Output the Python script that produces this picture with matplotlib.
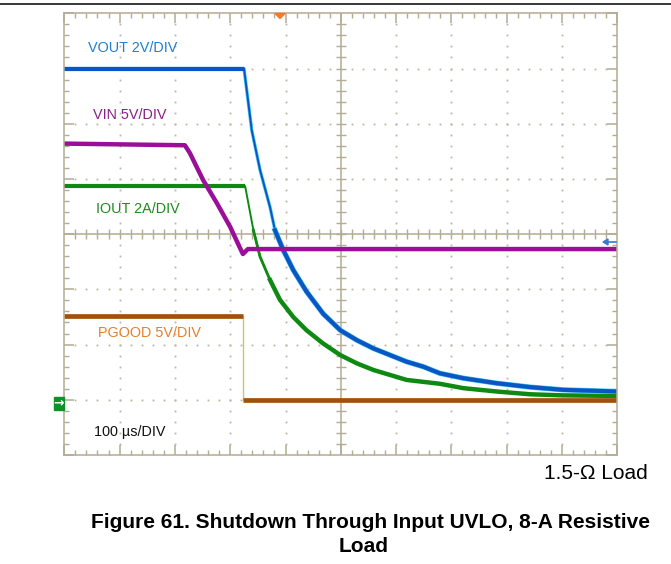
import numpy as np
import matplotlib
matplotlib.use('Agg')
import matplotlib.pyplot as plt
from matplotlib.lines import Line2D
from matplotlib.patches import Rectangle, Polygon

plt.rcParams['font.family'] = ['Liberation Sans', 'DejaVu Sans']

# time in us (100 us/DIV), trace position in screen divisions (0 = bottom edge)
vout_t = [0, 325, 339, 354, 372, 381, 396, 414, 438, 468, 499, 529, 559, 589, 619, 649, 679, 722, 782, 842, 902, 1000]
vout_div = [7.0, 7.0, 5.88, 5.16, 4.49, 4.07, 3.71, 3.35, 2.96, 2.56, 2.26, 2.08, 1.93, 1.81, 1.69, 1.60, 1.48, 1.39, 1.30, 1.23, 1.18, 1.15]

vin_t = [0, 218, 227, 251, 276, 300, 321, 323, 332, 1000]
vin_div = [5.64, 5.61, 5.47, 4.98, 4.56, 4.13, 3.68, 3.64, 3.73, 3.73]

iout_t = [0, 327, 342, 354, 372, 390, 414, 438, 468, 499, 529, 559, 589, 619, 679, 722, 782, 842, 902, 1000]
iout_div = [4.87, 4.87, 4.07, 3.59, 3.17, 2.81, 2.50, 2.26, 2.02, 1.81, 1.66, 1.54, 1.45, 1.36, 1.29, 1.21, 1.15, 1.10, 1.08, 1.07]

pgood_t = [0, 324, 324, 1000]
pgood_div = [2.52, 2.52, 1.0, 1.0]

labels = ['VOUT 2V/DIV', 'VIN 5V/DIV', 'IOUT 2A/DIV', 'PGOOD 5V/DIV', '100 \u00b5s/DIV']
load_text = '1.5-\u03a9 Load'
caption_1 = 'Figure 61. Shutdown Through Input UVLO, 8-A Resistive'
caption_2 = 'Load'

W, H = 671, 564
X0, X1, Y0, Y1 = 64.3, 617.3, 13.3, 455.0


def fx(x):
    return x / W


def fy(y):
    return 1 - y / H


fig = plt.figure(figsize=(W / 100, H / 100), dpi=100)
ax = fig.add_axes([fx(X0), fy(Y1), (X1 - X0) / W, (Y1 - Y0) / H])
ax.set_xlim(0, 1000)
ax.set_ylim(0, 8)

# scope graticule
frame_c = '#b3ab94'
dot_c = '#bdb6a2'
for s in ax.spines.values():
    s.set_color(frame_c)
    s.set_linewidth(1.1)
ax.set_xticks(np.arange(0, 1001, 100))
ax.set_xticks(np.arange(0, 1001, 20), minor=True)
ax.set_yticks(np.arange(0, 8.01, 1))
ax.set_yticks(np.arange(0, 8.01, 0.2), minor=True)
ax.tick_params(which='both', direction='in', top=True, right=True, color=frame_c,
               labelbottom=False, labelleft=False)
ax.tick_params(which='major', length=7.5, width=1.1)
ax.tick_params(which='minor', length=3.4, width=1.0)

ppx = 1000 / (X1 - X0)
ppy = 8 / (Y1 - Y0)
ax.axvline(500, color=frame_c, lw=1.1)
ax.axhline(4, color=frame_c, lw=1.1)
ax.hlines(np.arange(0.2, 8, 0.2), 500 - 5 * ppx, 500 + 5 * ppx, color=frame_c, lw=1.0)
ax.vlines(np.arange(20, 1000, 20), 4 - 5 * ppy, 4 + 5 * ppy, color=frame_c, lw=1.0)

for t in range(100, 1000, 100):
    if t == 500:
        continue
    yy = np.arange(0.2, 8, 0.2)
    ax.plot(np.full_like(yy, t), yy, ls='none', marker='s', ms=1.3, mew=0, color=dot_c)
for v in range(1, 8):
    if v == 4:
        continue
    tt = np.arange(20, 1000, 20)
    ax.plot(tt, np.full_like(tt, v, dtype=float), ls='none', marker='s', ms=1.3, mew=0, color=dot_c)

# traces
ax.plot(pgood_t, pgood_div, color='#cdc56a', lw=1.0)
ax.plot(pgood_t[:2], pgood_div[:2], color='#a0520c', lw=3.4, solid_capstyle='butt')
ax.plot(pgood_t[2:], pgood_div[2:], color='#a0520c', lw=3.4, solid_capstyle='butt')

ax.plot(iout_t, iout_div, color='#0e8a12', lw=1.4)
ax.plot(iout_t[:2], iout_div[:2], color='#0e8a12', lw=3.0, solid_capstyle='butt')
ax.plot(iout_t[2:], iout_div[2:], color='#0e8a12', lw=2.0)
ax.plot(iout_t[4:], iout_div[4:], color='#0e8a12', lw=3.2)

ax.plot(vout_t, vout_div, color='#45c8ec', lw=2.4)
ax.plot(vout_t, vout_div, color='#0b55c4', lw=1.4)
ax.plot(vout_t[:2], vout_div[:2], color='#0b55c4', lw=3.0, solid_capstyle='butt')
ax.plot(vout_t[5:], vout_div[5:], color='#45c8ec', lw=3.8)
ax.plot(vout_t[5:], vout_div[5:], color='#0b55c4', lw=3.0)

ax.plot(vin_t, vin_div, color='#9a0e98', lw=3.2)

# channel labels
label_cols = ['#1f7fd0', '#8a2088', '#1c8c1c', '#e2802e', '#111111']
label_xy = [(88, 47.5), (93, 115), (96, 209), (98, 333), (94, 432)]
for txt, c, (x, y) in zip(labels, label_cols, label_xy):
    fig.text(fx(x), fy(y), txt, color=c, fontsize=10.4, ha='left', va='center')

# scope markers
fig.patches.append(Polygon([(fx(275), fy(13.5)), (fx(285), fy(13.5)), (fx(280), fy(18.5))],
                           closed=True, color='#f47a2a', transform=fig.transFigure))
fig.patches.append(Polygon([(fx(603), fy(242)), (fx(608), fy(239)), (fx(608), fy(245))],
                           closed=True, color='#3a78d4', transform=fig.transFigure))
fig.add_artist(Line2D([fx(606), fx(616)], [fy(242), fy(242)], color='#3a78d4', lw=1.2,
                      transform=fig.transFigure))
fig.patches.append(Rectangle((fx(54), fy(409.5)), 10 / W, 13 / H, color='#10902a',
                             transform=fig.transFigure))
fig.text(fx(59), fy(403), '\u2192', color='white', fontsize=9, ha='center', va='center',
         fontweight='bold', family=['DejaVu Sans'])

# page decoration and captions
fig.add_artist(Line2D([0, 1], [fy(4.3), fy(4.3)], color='black', lw=1.1, transform=fig.transFigure))
fig.text(fx(648), fy(473.5), load_text, fontsize=15, ha='right', va='center')
fig.text(fx(370.5), fy(522), caption_1, fontsize=15, fontweight='bold', ha='center', va='center')
fig.text(fx(364), fy(547), caption_2, fontsize=15, fontweight='bold', ha='center', va='center')

fig.savefig('out.png', dpi=100)
